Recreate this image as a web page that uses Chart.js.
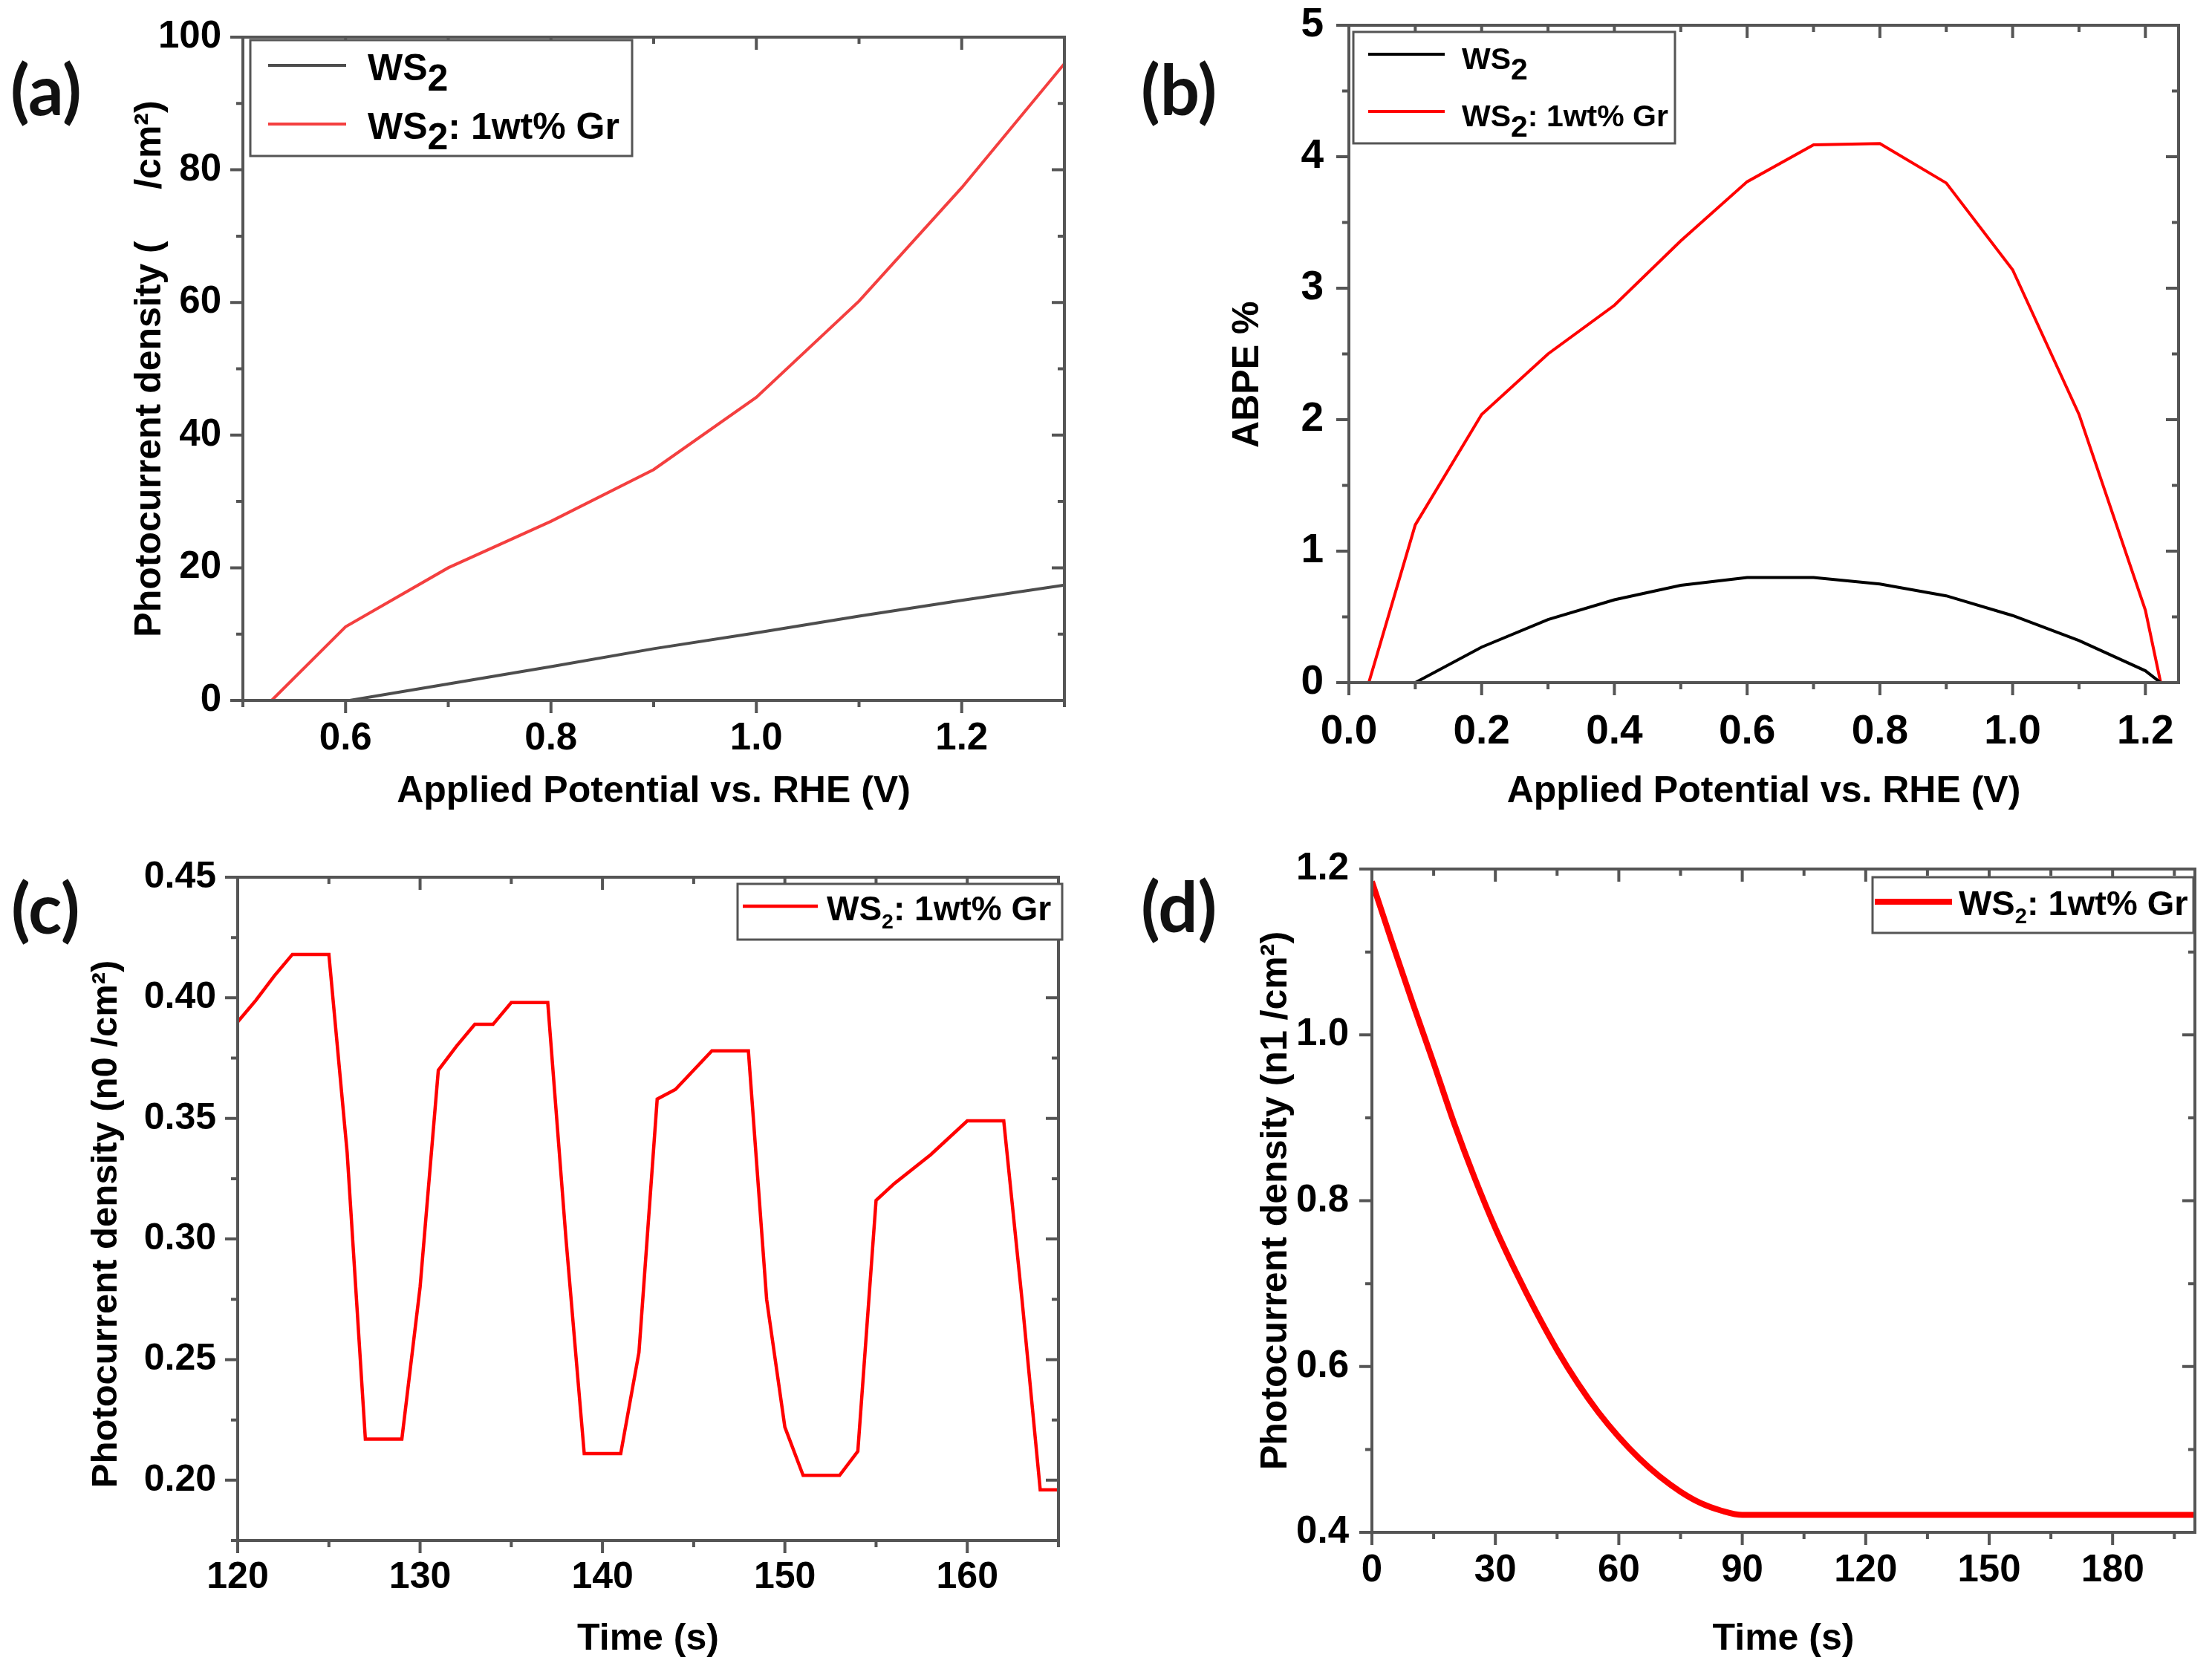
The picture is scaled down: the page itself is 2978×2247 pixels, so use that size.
<!DOCTYPE html>
<html>
<head>
<meta charset="utf-8">
<script src="https://cdn.jsdelivr.net/npm/chart.js@4.4.1/dist/chart.umd.min.js"></script>
<style>
  body { margin: 0; background: #fff; width: 2978px; height: 2247px; position: relative; overflow: hidden; }
  canvas { position: absolute; }
  .tag { position: absolute; font: 700 94px Lato, sans-serif; line-height: 1; color: #111; }
</style>
</head>
<body>
<div class="tag" style="left:14px;top:72px">(a)</div>
<div class="tag" style="left:1536px;top:72px">(b)</div>
<div class="tag" style="left:15px;top:1174px">(c)</div>
<div class="tag" style="left:1536px;top:1172px">(d)</div>
<canvas id="chartA"></canvas>
<canvas id="chartB"></canvas>
<canvas id="chartC"></canvas>
<canvas id="chartD"></canvas>
<script>
// (a) photocurrent density vs potential
var aPotWS2 = [0.604, 0.7, 0.8, 0.9, 1.0, 1.1, 1.2, 1.3];
var aCurWS2 = [0, 2.5, 5.1, 7.8, 10.2, 12.7, 15.1, 17.4];
var aPotGr = [0.528, 0.6, 0.7, 0.8, 0.9, 1.0, 1.1, 1.2, 1.3];
var aCurGr = [0, 11.1, 20, 27, 34.8, 45.7, 60.2, 77.3, 96];
var aXTicks = [0.6, 0.8, 1.0, 1.2];
var aYTicks = [0, 20, 40, 60, 80, 100];

// (b) ABPE vs potential
var bPotWS2 = [0.1, 0.2, 0.3, 0.4, 0.5, 0.6, 0.7, 0.8, 0.9, 1.0, 1.1, 1.2, 1.223];
var bAbpeWS2 = [0, 0.27, 0.48, 0.63, 0.74, 0.8, 0.8, 0.75, 0.66, 0.51, 0.32, 0.09, 0];
var bPotGr = [0.03, 0.1, 0.2, 0.3, 0.4, 0.5, 0.6, 0.7, 0.8, 0.9, 1.0, 1.1, 1.2, 1.223];
var bAbpeGr = [0, 1.2, 2.04, 2.5, 2.87, 3.36, 3.81, 4.09, 4.1, 3.8, 3.14, 2.04, 0.55, 0];
var bXTicks = [0.0, 0.2, 0.4, 0.6, 0.8, 1.0, 1.2];
var bYTicks = [0, 1, 2, 3, 4, 5];

// (c) chopped light response
var cTime = [120, 121, 122, 123, 125, 126, 127, 129, 130, 131, 132, 133, 134, 135, 137, 138, 139, 141, 142, 143,
  144, 145, 146, 148, 149, 150, 151, 153, 154, 155, 156, 158, 160, 162, 163, 164, 165];
var cCur = [0.39, 0.399, 0.409, 0.418, 0.418, 0.336, 0.217, 0.217, 0.28, 0.37, 0.38, 0.389, 0.389, 0.398, 0.398, 0.30, 0.211, 0.211, 0.253, 0.358,
  0.362, 0.37, 0.378, 0.378, 0.275, 0.222, 0.202, 0.202, 0.212, 0.316, 0.323, 0.335, 0.349, 0.349, 0.275, 0.196, 0.196];
var cXTicks = [120, 130, 140, 150, 160];
var cYTicks = [0.20, 0.25, 0.30, 0.35, 0.40, 0.45];

// (d) decay
var dTime = [0, 5, 10, 15, 20, 25, 30, 35, 40, 45, 50, 55, 60, 65, 70, 75, 80, 85, 90, 100, 120, 140, 160, 180, 200];
var dCur = [1.185, 1.110, 1.037, 0.966, 0.893, 0.827, 0.767, 0.714, 0.665, 0.620, 0.580, 0.545, 0.515, 0.489, 0.467, 0.449, 0.435, 0.426, 0.421,
  0.421, 0.421, 0.421, 0.421, 0.421, 0.421];
var dXTicks = [0, 30, 60, 90, 120, 150, 180];
var dYTicks = [0.4, 0.6, 0.8, 1.0, 1.2];

var FONT = "'Liberation Sans', Arial, sans-serif";

function pairs(xs, ys) {
  return xs.map(function (x, i) { return { x: x, y: ys[i] }; });
}

function drawRich(ctx, text, x, y, size, sub) {
  var parts = text.split('\u2082');
  ctx.textAlign = 'left';
  ctx.textBaseline = 'alphabetic';
  ctx.fillStyle = '#000';
  parts.forEach(function (p, i) {
    ctx.font = 'bold ' + size + 'px ' + FONT;
    ctx.fillText(p, x, y);
    x += ctx.measureText(p).width;
    if (i < parts.length - 1) {
      ctx.font = 'bold ' + (size * sub.scale) + 'px ' + FONT;
      ctx.fillText('2', x, y + sub.drop);
      x += ctx.measureText('2').width;
    }
  });
}

// frame box with major / minor ticks on all four sides
var frameTicks = {
  id: 'frameTicks',
  afterDatasetsDraw: function (chart) {
    var ctx = chart.ctx, a = chart.chartArea;
    ctx.save();
    ctx.strokeStyle = '#555';
    ctx.lineWidth = 4;
    ctx.strokeRect(a.left, a.top, a.right - a.left, a.bottom - a.top);
    ['x', 'y'].forEach(function (id) {
      var s = chart.scales[id];
      var v = s.ticks.map(function (t) { return t.value; });
      var half = (v[1] - v[0]) / 2;
      for (var k = -4; k < 60; k++) {
        var t = v[0] + k * half;
        if (t < s.min - 1e-9 || t > s.max + 1e-9) continue;
        var len = (k % 2 === 0) ? 17 : 9;
        var p = s.getPixelForValue(t);
        ctx.beginPath();
        if (id === 'x') {
          ctx.moveTo(p, a.bottom); ctx.lineTo(p, a.bottom + len);
          ctx.moveTo(p, a.top); ctx.lineTo(p, a.top + len);
        } else {
          ctx.moveTo(a.left - len, p); ctx.lineTo(a.left, p);
          ctx.moveTo(a.right - len, p); ctx.lineTo(a.right, p);
        }
        ctx.stroke();
      }
    });
    ctx.restore();
  }
};

// legend drawn inside the plot with a border
var boxLegend = {
  id: 'boxLegend',
  afterDraw: function (chart, args, o) {
    if (!o || !o.w) return;
    var ctx = chart.ctx, a = chart.chartArea;
    var left = (o.right !== undefined) ? a.right + o.right - o.w : a.left + o.left;
    var top = a.top + o.top;
    ctx.save();
    ctx.fillStyle = '#fff';
    ctx.fillRect(left, top, o.w, o.h);
    ctx.strokeStyle = '#555';
    ctx.lineWidth = 3;
    ctx.strokeRect(left, top, o.w, o.h);
    chart.data.datasets.forEach(function (ds, i) {
      var y = top + o.rows[i];
      ctx.strokeStyle = ds.borderColor;
      ctx.lineWidth = o.lineWidth || ds.borderWidth;
      ctx.beginPath();
      ctx.moveTo(left + o.lineX, y);
      ctx.lineTo(left + o.lineX + o.lineLen, y);
      ctx.stroke();
      drawRich(ctx, ds.label, left + o.textX, y + o.capOff + 0.358 * o.size, o.size, o.sub);
    });
    ctx.restore();
  }
};

Chart.register(frameTicks, boxLegend);

function axis(pos, c, fixed) {
  return {
    type: 'linear',
    position: pos,
    min: c.min,
    max: c.max,
    grid: { display: false, drawTicks: false },
    border: { display: false },
    afterBuildTicks: function (s) { s.ticks = c.ticks.map(function (v) { return { value: v }; }); },
    afterFit: function (s) {
      if (pos === 'left') s.width = fixed; else s.height = fixed;
      // keep the plot box where it is, labels may hang over the padding
      s.paddingTop = 0; s.paddingBottom = 0; s.paddingLeft = 0; s.paddingRight = 0;
    },
    ticks: {
      color: '#000',
      padding: c.pad,
      font: { family: FONT, weight: 'bold', size: c.size },
      callback: function (v) { return Number(v).toFixed(c.dec); }
    },
    title: {
      display: true,
      text: c.title,
      color: '#000',
      padding: 0,
      font: { family: FONT, weight: 'bold', size: c.titleSize || 50 }
    }
  };
}

function makeChart(id, box, area, datasets, xc, yc, legend, smooth) {
  var cv = document.getElementById(id);
  cv.width = box.w;
  cv.height = box.h;
  cv.style.left = box.x + 'px';
  cv.style.top = box.y + 'px';
  return new Chart(cv, {
    type: 'line',
    data: { datasets: datasets },
    options: {
      responsive: false,
      animation: false,
      devicePixelRatio: 1,
      layout: { padding: { left: 0, bottom: 0, top: area.t - box.y, right: box.x + box.w - area.r } },
      elements: {
        point: { radius: 0 },
        line: { tension: 0, cubicInterpolationMode: smooth ? 'monotone' : 'default' }
      },
      plugins: { legend: { display: false }, tooltip: { enabled: false }, boxLegend: legend },
      scales: {
        x: axis('bottom', xc, box.y + box.h - area.b),
        y: axis('left', yc, area.l - box.x)
      }
    }
  });
}

makeChart('chartA',
  { x: 172, y: 0, w: 1288, h: 1096 }, { l: 327, t: 50, r: 1433, b: 943 },
  [
    { label: 'WS\u2082', data: pairs(aPotWS2, aCurWS2), borderColor: '#4d4d4d', borderWidth: 4 },
    { label: 'WS\u2082: 1wt% Gr', data: pairs(aPotGr, aCurGr), borderColor: '#f43f3f', borderWidth: 4 }
  ],
  { min: 0.5, max: 1.3, ticks: aXTicks, dec: 1, pad: 21, size: 51, title: 'Applied Potential vs. RHE (V)' },
  { min: 0, max: 100, ticks: aYTicks, dec: 0, pad: 29, size: 51, title: 'Photocurrent density (     /cm\u00b2)' },
  { left: 10, top: 4, w: 514, h: 156, lineX: 24, lineLen: 105, textX: 158, rows: [34, 113], size: 50, capOff: 2, sub: { scale: 1.0, drop: 14 } }
);

makeChart('chartB',
  { x: 1650, y: 0, w: 1320, h: 1096 }, { l: 1816, t: 34, r: 2933, b: 919 },
  [
    { label: 'WS\u2082', data: pairs(bPotWS2, bAbpeWS2), borderColor: '#000000', borderWidth: 4 },
    { label: 'WS\u2082: 1wt% Gr', data: pairs(bPotGr, bAbpeGr), borderColor: '#ff0000', borderWidth: 4 }
  ],
  { min: 0, max: 1.25, ticks: bXTicks, dec: 1, pad: 34, size: 55, title: 'Applied Potential vs. RHE (V)' },
  { min: 0, max: 5, ticks: bYTicks, dec: 0, pad: 34, size: 55, title: 'ABPE %    ' },
  { left: 6, top: 9, w: 433, h: 150, lineX: 20, lineLen: 103, textX: 146, rows: [30, 107], size: 41, capOff: 5, sub: { scale: 1.0, drop: 14 } }
);

makeChart('chartC',
  { x: 114, y: 1130, w: 1346, h: 1107 }, { l: 320, t: 1181, r: 1425, b: 2074 },
  [
    { label: 'WS\u2082: 1wt% Gr', data: pairs(cTime, cCur), borderColor: '#ff0000', borderWidth: 4.5 }
  ],
  { min: 120, max: 165, ticks: cXTicks, dec: 0, pad: 20, size: 50, title: 'Time (s)' },
  { min: 0.175, max: 0.45, ticks: cYTicks, dec: 2, pad: 29, size: 50, titleSize: 49, title: 'Photocurrent density (n0 /cm\u00b2)   ' },
  { right: 5, top: 9, w: 437, h: 75, lineX: 7, lineLen: 101, textX: 120, rows: [30], size: 46, capOff: 3, sub: { scale: 0.62, drop: 11 } }
);

makeChart('chartD',
  { x: 1688, y: 1120, w: 1287, h: 1117 }, { l: 1847, t: 1170, r: 2955, b: 2063 },
  [
    { label: 'WS\u2082: 1wt% Gr', data: pairs(dTime, dCur), borderColor: '#ff0000', borderWidth: 8 }
  ],
  { min: 0, max: 200, ticks: dXTicks, dec: 0, pad: 21, size: 51, title: 'Time (s)' },
  { min: 0.4, max: 1.2, ticks: dYTicks, dec: 1, pad: 31, size: 51, title: 'Photocurrent density (n1 /cm\u00b2)' },
  { right: -2, top: 11, w: 432, h: 75, lineX: 3, lineLen: 104, textX: 116, rows: [33], size: 47, capOff: 1, sub: { scale: 0.62, drop: 11 } },
  true
);
</script>
</body>
</html>
